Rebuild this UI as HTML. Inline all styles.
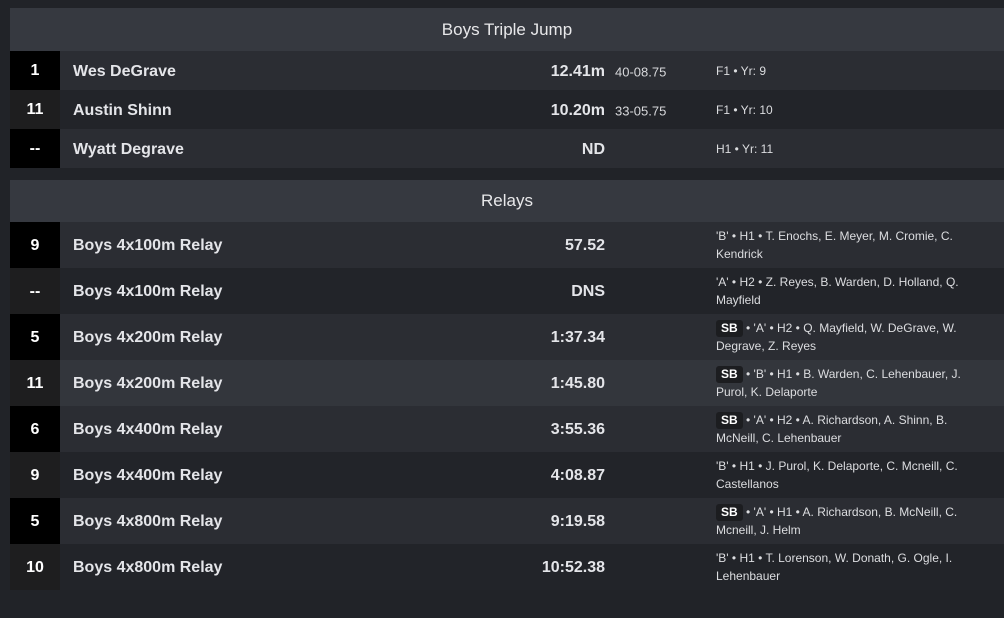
<!DOCTYPE html>
<html><head><style>
body{margin:0;background:#212328;width:1004px;height:618px;overflow:hidden;font-family:"Liberation Sans",Arial,sans-serif;color:#e6e7ea}
.sec{position:absolute;left:10px;right:0}
.hd{background:#363940;height:43px;line-height:43px;text-align:center;font-size:17px;color:#e8e8ea}
.row{position:relative;display:flex;align-items:center}
.r{width:50px;height:100%;display:flex;align-items:center;justify-content:center;font-weight:bold;font-size:16px;color:#fff;background:#000;padding-top:1px;box-sizing:border-box}
.row.e .r,.row.h .r{background:#1e1e1f}
.n{position:absolute;left:63px;top:50%;transform:translateY(-45%);font-weight:bold;font-size:16px;color:#e4e5e9}
.m{position:absolute;right:399px;top:50%;transform:translateY(-45%);font-weight:bold;font-size:16px;color:#e4e5e9}
.c{position:absolute;left:605px;top:50%;transform:translateY(-45%);font-size:13px;color:#d8d9dc}
.d{position:absolute;left:706px;width:270px;font-size:12px;line-height:18px;color:#dcdde0}
.sb{display:inline-block;background:#1c1d20;color:#fff;font-weight:bold;font-size:12px;padding:0 5px;border-radius:3px;line-height:17px}
.t .row{height:39px;background:#2b2d33}
.t .row.e{background:#222429}
.rl .row{height:46px;background:#2b2d33}
.rl .row.e{background:#222429}
.rl .row.h{background:#33363c}
</style></head><body>
<div class="sec t" style="top:8px">
<div class="hd">Boys Triple Jump</div>
<div class="row"><div class="r">1</div><div class="n">Wes DeGrave</div><div class="m">12.41m</div><div class="c">40-08.75</div><div class="d">F1 • Yr: 9</div></div>
<div class="row e"><div class="r">11</div><div class="n">Austin Shinn</div><div class="m">10.20m</div><div class="c">33-05.75</div><div class="d">F1 • Yr: 10</div></div>
<div class="row"><div class="r">--</div><div class="n">Wyatt Degrave</div><div class="m">ND</div><div class="d">H1 • Yr: 11</div></div>
</div>
<div class="sec rl" style="top:180px">
<div class="hd" style="height:42px;line-height:42px">Relays</div>
<div class="row"><div class="r">9</div><div class="n">Boys 4x100m Relay</div><div class="m">57.52</div><div class="d">'B' • H1 • T. Enochs, E. Meyer, M. Cromie, C. Kendrick</div></div>
<div class="row e"><div class="r">--</div><div class="n">Boys 4x100m Relay</div><div class="m">DNS</div><div class="d">'A' • H2 • Z. Reyes, B. Warden, D. Holland, Q. Mayfield</div></div>
<div class="row"><div class="r">5</div><div class="n">Boys 4x200m Relay</div><div class="m">1:37.34</div><div class="d"><span class="sb">SB</span> • 'A' • H2 • Q. Mayfield, W. DeGrave, W. Degrave, Z. Reyes</div></div>
<div class="row h"><div class="r">11</div><div class="n">Boys 4x200m Relay</div><div class="m">1:45.80</div><div class="d"><span class="sb">SB</span> • 'B' • H1 • B. Warden, C. Lehenbauer, J. Purol, K. Delaporte</div></div>
<div class="row"><div class="r">6</div><div class="n">Boys 4x400m Relay</div><div class="m">3:55.36</div><div class="d"><span class="sb">SB</span> • 'A' • H2 • A. Richardson, A. Shinn, B. McNeill, C. Lehenbauer</div></div>
<div class="row e"><div class="r">9</div><div class="n">Boys 4x400m Relay</div><div class="m">4:08.87</div><div class="d">'B' • H1 • J. Purol, K. Delaporte, C. Mcneill, C. Castellanos</div></div>
<div class="row"><div class="r">5</div><div class="n">Boys 4x800m Relay</div><div class="m">9:19.58</div><div class="d"><span class="sb">SB</span> • 'A' • H1 • A. Richardson, B. McNeill, C. Mcneill, J. Helm</div></div>
<div class="row e"><div class="r">10</div><div class="n">Boys 4x800m Relay</div><div class="m">10:52.38</div><div class="d">'B' • H1 • T. Lorenson, W. Donath, G. Ogle, I. Lehenbauer</div></div>
</div>
</body></html>
